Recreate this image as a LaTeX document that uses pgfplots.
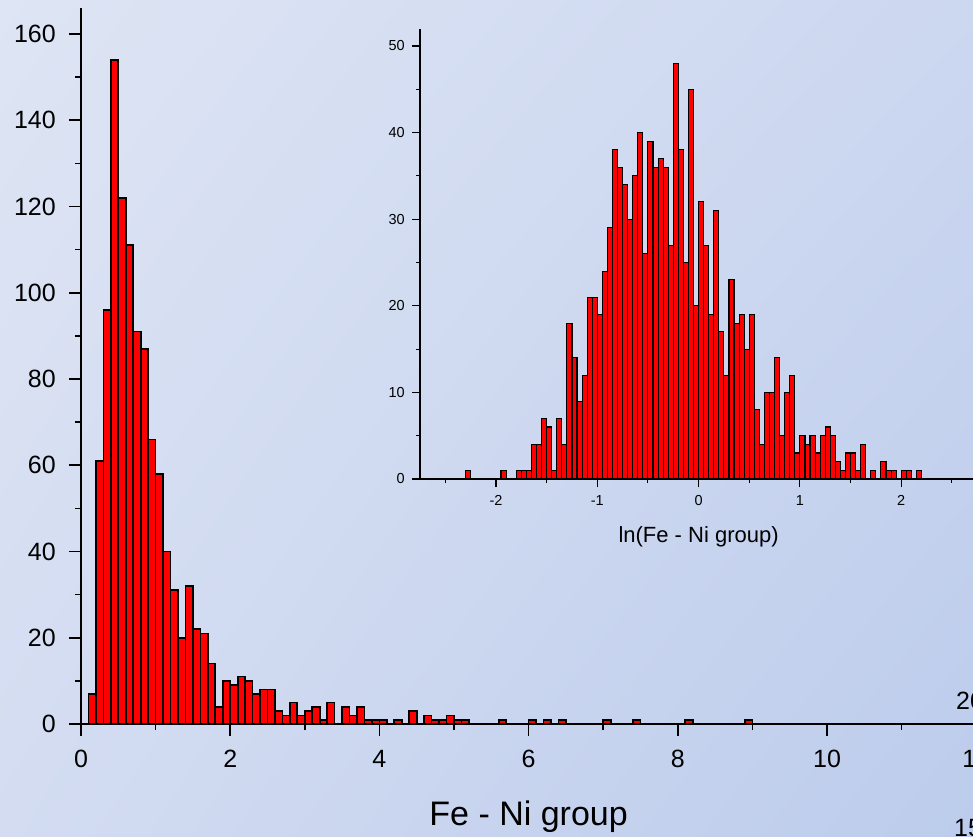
\documentclass[border=0pt]{standalone}
\usepackage{pgfplots}
\pgfplotsset{compat=1.18}
\usetikzlibrary{shadings}
\usepackage{fontspec}
\setmainfont{Liberation Sans}
\definecolor{bgTL}{RGB}{222,229,244}
\definecolor{bgTR}{RGB}{204,215,240}
\definecolor{bgBL}{RGB}{211,220,241}
\definecolor{bgBR}{RGB}{188,204,236}
\pgfplotstableread{
x y
0.15 7
0.25 61
0.35 96
0.45 154
0.55 122
0.65 111
0.75 91
0.85 87
0.95 66
1.05 58
1.15 40
1.25 31
1.35 20
1.45 32
1.55 22
1.65 21
1.75 14
1.85 4
1.95 10
2.05 9
2.15 11
2.25 10
2.35 7
2.45 8
2.55 8
2.65 3
2.75 2
2.85 5
2.95 2
3.05 3
3.15 4
3.25 1
3.35 5
3.55 4
3.65 2
3.75 4
3.85 1
3.95 1
4.05 1
4.25 1
4.45 3
4.65 2
4.75 1
4.85 1
4.95 2
5.05 1
5.15 1
5.65 1
6.05 1
6.25 1
6.45 1
7.05 1
7.45 1
8.15 1
8.95 1
}\maindata
\pgfplotstableread{
x y
-2.275 1
-1.925 1
-1.775 1
-1.725 1
-1.675 1
-1.625 4
-1.575 4
-1.525 7
-1.475 6
-1.425 1
-1.375 7
-1.325 4
-1.275 18
-1.225 14
-1.175 9
-1.125 12
-1.075 21
-1.025 21
-0.975 19
-0.925 24
-0.875 29
-0.825 38
-0.775 36
-0.725 34
-0.675 30
-0.625 35
-0.575 40
-0.525 26
-0.475 39
-0.425 36
-0.375 37
-0.325 36
-0.275 27
-0.225 48
-0.175 38
-0.125 25
-0.075 45
-0.025 20
0.025 32
0.075 27
0.125 19
0.175 31
0.225 17
0.275 12
0.325 23
0.375 18
0.425 19
0.475 15
0.525 19
0.575 8
0.625 4
0.675 10
0.725 10
0.775 14
0.825 5
0.875 10
0.925 12
0.975 3
1.025 5
1.075 4
1.125 5
1.175 3
1.225 5
1.275 6
1.325 5
1.375 2
1.425 1
1.475 3
1.525 3
1.575 1
1.625 4
1.725 1
1.825 2
1.875 1
1.925 1
2.025 1
2.075 1
2.175 1
}\insetdata
\begin{document}
\begin{tikzpicture}[x=1pt,y=1pt]
\useasboundingbox (0,0) rectangle (973,836);
\shade[upper left=bgTL, upper right=bgTR, lower left=bgBL, lower right=bgBR] (0,0) rectangle (973,836);
% main histogram
\begin{axis}[
  at={(81pt,112pt)}, anchor=south west,
  x=74.6pt, y=4.3125pt,
  xmin=0, xmax=12, ymin=0, ymax=166,
  enlargelimits=false,
  axis lines=left,
  axis line style={-, line width=1.7pt, black},
  tick align=outside,
  xtick={0,2,...,12}, minor xtick={1,3,...,11},
  ytick={0,20,...,160}, minor ytick={10,30,...,150},
  major tick length=12pt, minor tick length=6pt,
  tick style={black, line width=1.7pt},
  /pgf/number format/assume math mode=true,
  tick label style={font=\fontsize{25}{30}\selectfont},
  xticklabel style={inner sep=0pt, anchor=north, yshift=-14pt},
  yticklabel style={inner sep=0pt, anchor=east, xshift=-13pt},
  xlabel={Fe - Ni group},
  xlabel style={font=\fontsize{34}{40}\selectfont, at={(axis description cs:0.5,0)}, anchor=base, yshift=-101pt, inner sep=0pt},
  clip=false,
]
\addplot[ybar, bar width=0.1, fill=red, draw=black, line width=1.7pt] table {\maindata};
\end{axis}
% inset histogram
\begin{axis}[
  at={(420pt,357pt)}, anchor=south west,
  x=101.3pt, y=8.66pt,
  xmin=-2.75, xmax=2.75, ymin=0, ymax=52,
  enlargelimits=false,
  axis lines=left,
  axis line style={-, line width=1.2pt, black},
  tick align=outside,
  xtick={-2,-1,0,1,2}, minor xtick={-2.5,-1.5,-0.5,0.5,1.5,2.5},
  ytick={0,10,...,50}, minor ytick={5,15,...,45},
  major tick length=8pt, minor tick length=4pt,
  tick style={black, line width=1.1pt},
  /pgf/number format/assume math mode=true,
  tick label style={font=\fontsize{14.5}{17}\selectfont},
  xticklabel style={inner sep=0pt, anchor=north, yshift=-8pt},
  yticklabel style={inner sep=0pt, anchor=east, xshift=-7pt},
  xlabel={ln(Fe - Ni group)},
  xlabel style={font=\fontsize{22}{26}\selectfont, at={(axis description cs:0.5,0)}, anchor=base, yshift=-63.5pt, inner sep=0pt},
  clip=false,
]
\addplot[ybar, bar width=0.05, fill=red, draw=black, line width=1.1pt] table {\insetdata};
\end{axis}
% fragments of the neighbouring chart, cut by the edge as in the reference
\node[anchor=base west, inner sep=0pt, font=\fontsize{25}{30}\selectfont] at (956,127) {20};
\node[anchor=base west, inner sep=0pt, font=\fontsize{25}{30}\selectfont] at (954,0) {15};
\end{tikzpicture}
\end{document}
